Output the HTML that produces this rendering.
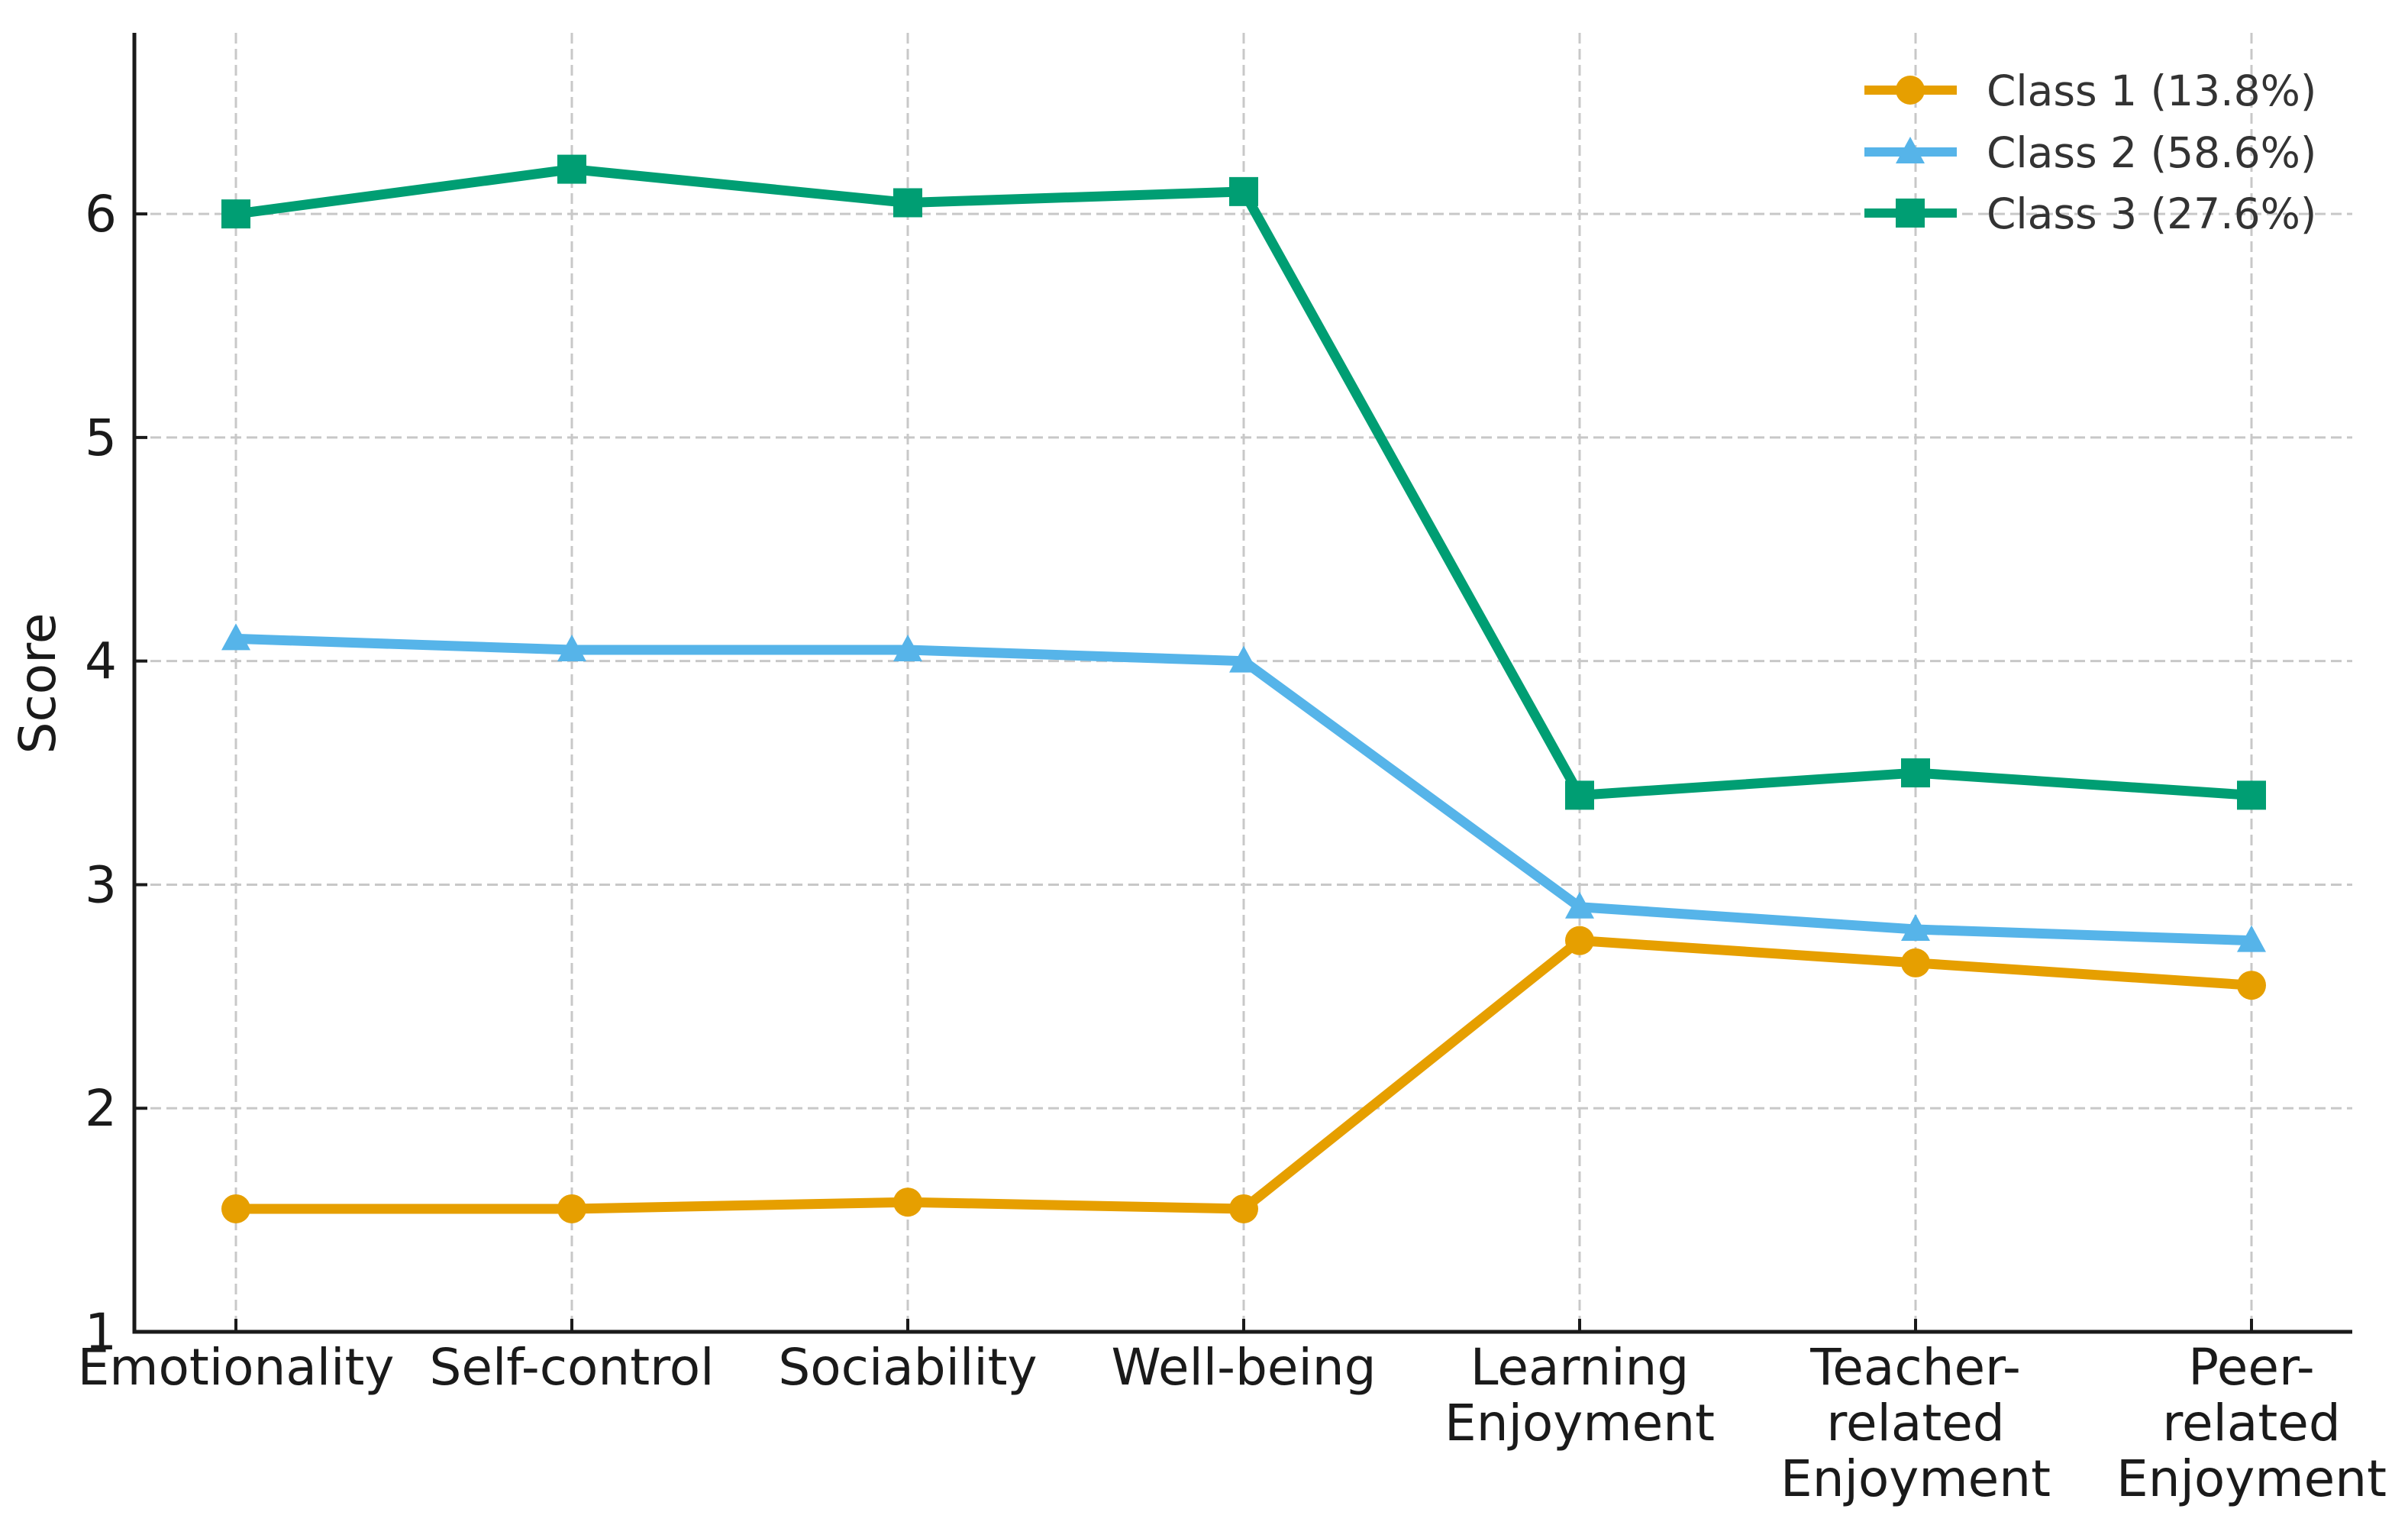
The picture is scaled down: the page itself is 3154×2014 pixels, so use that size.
<!DOCTYPE html>
<html><head><meta charset="utf-8"><style>
html,body{margin:0;padding:0;background:#fff;}
svg{display:block;font-family:"DejaVu Sans","Liberation Sans",sans-serif;}
</style></head><body>
<svg id="chart" width="3154" height="2014" viewBox="0 0 3154 2014">
<g id="grid"></g>
<g id="series"></g>
<g id="axes"></g>
<text x="0" y="0" transform="translate(72,895) rotate(-90)" text-anchor="middle" font-size="66" fill="#1a1a1a">Score</text>
<g id="legend"></g>
</svg>
<script>
const categories = [["Emotionality"],["Self-control"],["Sociability"],["Well-being"],["Learning","Enjoyment"],["Teacher-","related","Enjoyment"],["Peer-","related","Enjoyment"]];
const class1 = [1.55,1.55,1.58,1.55,2.75,2.65,2.55];
const class2 = [4.1,4.05,4.05,4.0,2.9,2.8,2.75];
const class3 = [6.0,6.2,6.05,6.1,3.4,3.5,3.4];
const yTicks = [1,2,3,4,5,6];
const seriesNames = ["Class 1 (13.8%)","Class 2 (58.6%)","Class 3 (27.6%)"];

const NS="http://www.w3.org/2000/svg";
const L=176,R=3081,T=43,B=1744;
const yMin=1,yMax=6.81;
const x0=309,dx=440;
function xs(i){return x0+i*dx;}
function ys(v){return B-(v-yMin)/(yMax-yMin)*(B-T);}
function mk(tag,attrs,parent){const e=document.createElementNS(NS,tag);for(const k in attrs)e.setAttribute(k,attrs[k]);parent.appendChild(e);return e;}
const grid=document.getElementById('grid'),axes=document.getElementById('axes'),ser=document.getElementById('series'),leg=document.getElementById('legend');

yTicks.forEach(v=>{
  const y=ys(v);
  if(v>yMin){const g=mk('line',{x1:L,x2:R,y1:y,y2:y,stroke:'#c8c8c8','stroke-width':3,'stroke-dasharray':'14,7'},grid);
  
  }
  const t=mk('line',{x1:L,x2:L+17,y1:y,y2:y,stroke:'#1a1a1a','stroke-width':4},axes);
  
  
  const tx=mk('text',{x:153,y:y+23,'text-anchor':'end','font-size':66,fill:'#1a1a1a'},axes);
  tx.textContent=v;
  
  
});
categories.forEach((c,i)=>{
  const x=xs(i);
  const g=mk('line',{x1:x,x2:x,y1:T,y2:B,stroke:'#c8c8c8','stroke-width':3,'stroke-dasharray':'14,7'},grid);
  
  
  const t=mk('line',{x1:x,x2:x,y1:B,y2:B-17,stroke:'#1a1a1a','stroke-width':4},axes);
  
  
  c.forEach((ln,j)=>{
    const tx=mk('text',{x:x,y:1813+j*73,'text-anchor':'middle','font-size':66,fill:'#1a1a1a'},axes);
    tx.textContent=ln;
    
    
  });
});
const sp=mk('path',{d:`M${L},${T} V${B} H${R}`,fill:'none',stroke:'#1a1a1a','stroke-width':5},axes);



const colors=['#E69F00','#56B4E9','#009E73'];
const shapes=['circle','triangle','square'];
function marker(shape,cx,cy,col,parent){
  let m;
  if(shape==='circle') m=mk('circle',{cx:cx,cy:cy,r:19,fill:col},parent);
  else if(shape==='square') m=mk('rect',{x:cx-19,y:cy-19,width:38,height:38,fill:col},parent);
  else m=mk('polygon',{points:`${cx},${cy-20} ${cx+19},${cy+15} ${cx-19},${cy+15}`,fill:col},parent);
  return m;
}
[class1,class2,class3].forEach((data,s)=>{
  const g=mk('g',{},ser);
  
  
  const p=mk('polyline',{points:data.map((v,i)=>xs(i)+','+ys(v)).join(' '),fill:'none',stroke:colors[s],'stroke-width':13,'stroke-linejoin':'round'},g);
  
  
  data.forEach((v,i)=>{
    const m=marker(shapes[s],xs(i),ys(v),colors[s],g);
    
    
  });
});
const legY=[118,199,279];
seriesNames.forEach((n,s)=>{
  const g=mk('g',{},leg);
  
  
  mk('line',{x1:2442,x2:2563,y1:legY[s],y2:legY[s],stroke:colors[s],'stroke-width':12},g);
  marker(shapes[s],2502,legY[s],colors[s],g);
  const t=mk('text',{x:2602,y:legY[s]+20,'font-size':55,fill:'#333'},g);
  t.textContent=n;
});
</script>
</body></html>
